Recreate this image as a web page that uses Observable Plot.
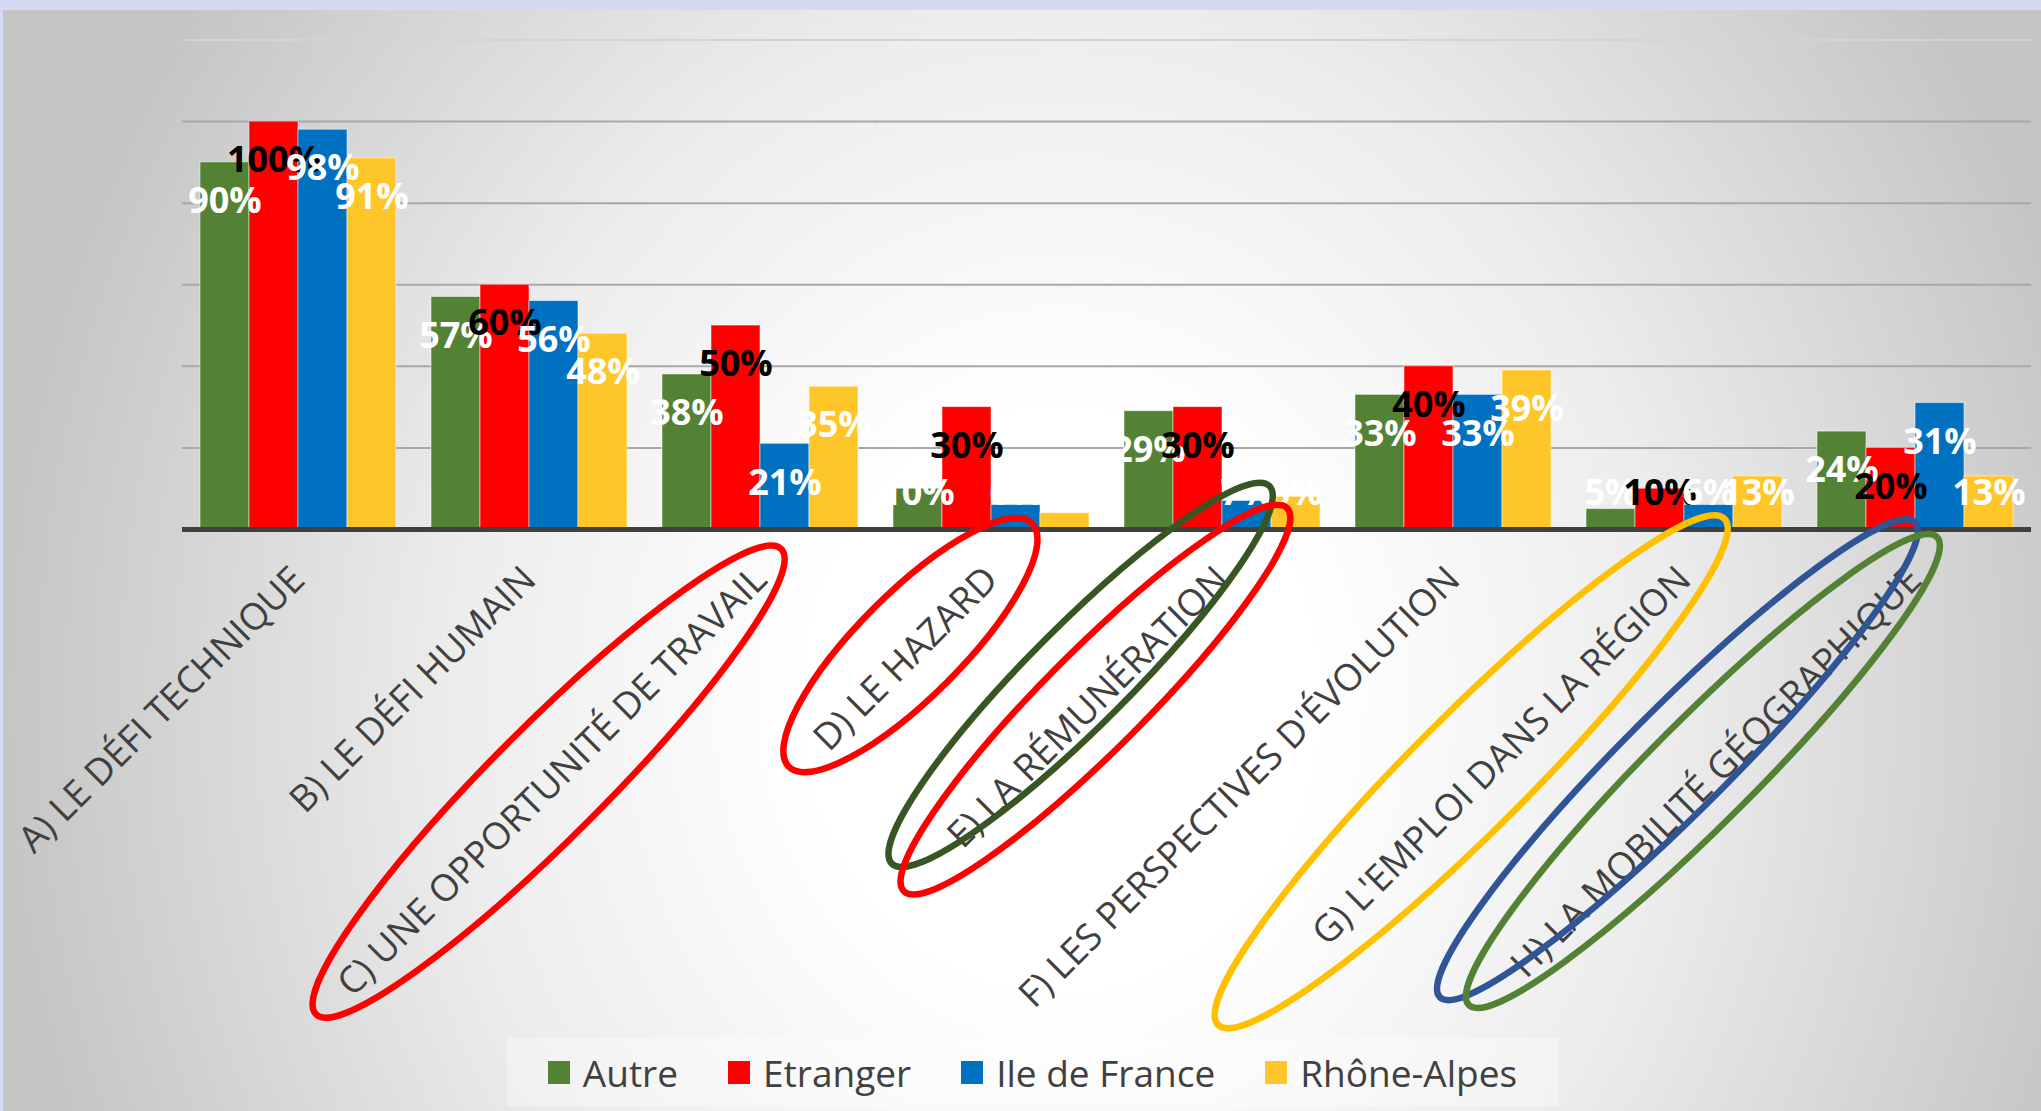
<!DOCTYPE html>
<html><head><meta charset="utf-8">
<script src="https://cdn.jsdelivr.net/npm/d3@7"></script>
<script src="https://cdn.jsdelivr.net/npm/@observablehq/plot@0.6"></script>
<style>
html,body{margin:0;padding:0;width:2041px;height:1111px;overflow:hidden;background:#d3daf1;}
#bg{position:absolute;left:3px;top:10px;width:2038px;height:1101px;
 background:radial-gradient(ellipse 1060px 1200px at 1058px 690px,#ffffff 0%,#ffffff 24%,#ececec 58%,#c5c5c5 100%);}
#chart{position:absolute;left:0;top:0;}
#legend{position:absolute;left:507px;top:1038px;width:1051px;height:68px;background:rgba(255,255,255,0.35);
 display:flex;align-items:center;justify-content:center;font-family:"Open Sans",sans-serif;font-size:37px;color:#404040;}
#legend .sw{display:inline-block;width:22px;height:23px;margin-right:13px;}
#legend .lb{margin-right:50px;white-space:nowrap;display:inline-flex;align-items:center;}
#legend .lb:last-child{margin-right:0;}
</style></head>
<body>
<div id="bg"></div>
<div id="chart"></div>
<div id="legend"></div>
<script>
const categories = [
  "A) LE DÉFI TECHNIQUE",
  "B) LE DÉFI HUMAIN",
  "C) UNE OPPORTUNITÉ DE TRAVAIL",
  "D) LE HAZARD",
  "E) LA RÉMUNÉRATION",
  "F) LES PERSPECTIVES D'ÉVOLUTION",
  "G) L'EMPLOI DANS LA RÉGION",
  "H) LA MOBILITÉ GÉOGRAPHIQUE"
];
const series = ["Autre", "Etranger", "Ile de France", "Rhône-Alpes"];
const autre       = [90, 57, 38, 10, 29, 33, 5, 24];
const etranger    = [100, 60, 50, 30, 30, 40, 10, 20];
const ileDeFrance = [98, 56, 21, 6, 7, 33, 6, 31];
const rhoneAlpes  = [91, 48, 35, 4, 8, 39, 13, 13];
const seriesValues = [autre, etranger, ileDeFrance, rhoneAlpes];
const seriesColors = ["#548235", "#ff0000", "#0070c0", "#ffc629"];
const labelColors = ["#ffffff", "#000000", "#ffffff", "#ffffff"];
const gridValues = [20, 40, 60, 80, 100];
const topGridValues = [120];

// hand-drawn circles around some category labels (category index, colour, geometry in label frame)
const circleCats   = [2, 3, 4, 4, 6, 7, 7];
const circleColors = ["#ff0000", "#ff0000", "#375623", "#ff0000", "#ffc000", "#2f5597", "#548235"];
const circleCx     = [-297, -108, -172, -179, -291, -300, -290];
const circleCy     = [0, -4, -26, 2, -8, -34, -8];
const circleRx     = [329, 172, 267, 271, 358, 336, 331];
const circleRy     = [56, 52, 50, 50, 58, 52, 52];

const rows = series.flatMap((s, i) => categories.map((c, j) => ({category: c, series: s, value: seriesValues[i][j]})));
const font = "'Open Sans', sans-serif";

const plot = Plot.plot({
  width: 2041,
  height: 1036,
  marginLeft: 182,
  marginRight: 10,
  marginTop: 39.5,
  marginBottom: 507,
  style: {background: "transparent", fontFamily: font, overflow: "visible"},
  fx: {domain: categories, paddingInner: 0.145, paddingOuter: 0.0725, label: null},
  x: {domain: series, padding: 0, axis: null},
  y: {domain: [0, 120], axis: null},
  color: {domain: series, range: seriesColors},
  marks: [
    Plot.ruleY(topGridValues, {stroke: "#d4d4d4", strokeWidth: 2, insetLeft: -17, insetRight: -17}),
    Plot.ruleY(gridValues, {stroke: "#a8a8a8", strokeWidth: 2, insetLeft: -17, insetRight: -17}),
    Plot.barY(rows, {fx: "category", x: "series", y: "value", fill: "series", stroke: "#ffffff", strokeOpacity: 0.5, strokeWidth: 1}),
    Plot.ruleY([0], {stroke: "#404040", strokeWidth: 5, insetLeft: -17, insetRight: -17}),
    ...series.map((s, i) => Plot.text(rows.filter(r => r.series === s), {
      fx: "category", x: "series",
      y: d => Math.max(d.value - 9.6, 8.8),
      text: d => `${d.value}%`,
      fill: labelColors[i], fontSize: 36, fontWeight: "bold", fontFamily: font
    })),
    Plot.axisFx({anchor: "bottom", tickRotate: -45, tickSize: 0, tickPadding: 44, fontSize: 37, fill: "#404040", label: null, fontFamily: font})
  ]
});
document.getElementById("chart").append(plot);

// circles around labels
const svg = plot.tagName.toLowerCase() === "svg" ? plot : plot.querySelector("svg");
const textByCat = new Map();
svg.querySelectorAll("text").forEach(t => { if (categories.includes(t.textContent)) textByCat.set(t.textContent, t); });
circleCats.forEach((ci, k) => {
  const t = textByCat.get(categories[ci]);
  if (!t) return;
  const bb = t.getBBox();
  const endX = bb.x + bb.width, midY = bb.y + bb.height / 2;
  const e = document.createElementNS("http://www.w3.org/2000/svg", "ellipse");
  e.setAttribute("cx", endX + circleCx[k]);
  e.setAttribute("cy", midY + circleCy[k]);
  e.setAttribute("rx", circleRx[k]);
  e.setAttribute("ry", circleRy[k]);
  const tr = t.getAttribute("transform");
  if (tr) e.setAttribute("transform", tr);
  e.setAttribute("fill", "none");
  e.setAttribute("stroke", circleColors[k]);
  e.setAttribute("stroke-width", 6.5);
  t.parentNode.appendChild(e);
});

// legend
const legend = document.getElementById("legend");
series.forEach((s, i) => {
  const item = document.createElement("span");
  item.className = "lb";
  item.innerHTML = `<span class="sw" style="background:${seriesColors[i]}"></span>${s}`;
  legend.append(item);
});
</script>
</body></html>
